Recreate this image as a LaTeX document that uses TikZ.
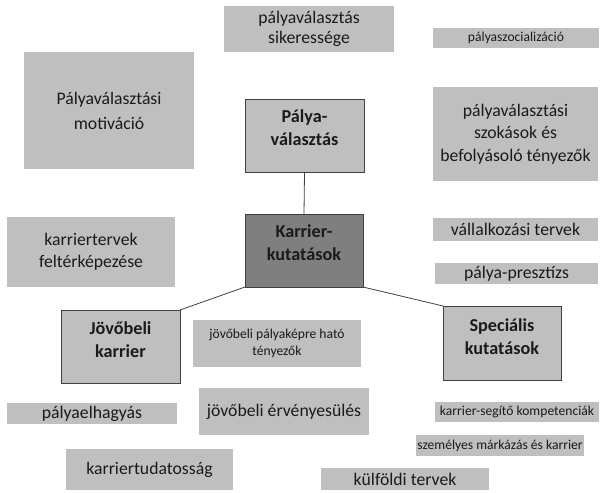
\documentclass[tikz,border=0pt]{standalone}
\usepackage{fontspec}
\setmainfont{Carlito}
\definecolor{boxgray}{HTML}{BFBFBF}
\definecolor{darkgray2}{HTML}{7F7F7F}
\definecolor{edgegray}{HTML}{404040}
\definecolor{txt}{HTML}{1A1A1A}
\newcommand\RB[2]{\raisebox{#1}[\height][\depth]{\begin{tabular}{@{}c@{}}#2\end{tabular}}}
\tikzset{
  gbox/.style={fill=boxgray, draw=none, inner sep=0pt, outer sep=0pt, align=center, text=txt},
  obox/.style={gbox, draw=edgegray, line width=0.9bp},
  reg/.style={font=\fontsize{17.7bp}{22.5bp}\selectfont},
  sml/.style={font=\fontsize{13.6bp}{17bp}\selectfont},
  bld/.style={font=\fontsize{18.2bp}{23bp}\selectfont\bfseries},
  link/.style={draw=edgegray, line width=0.8bp}
}
\begin{document}
\begin{tikzpicture}[x=1bp, y=-1bp]
\fill[white] (0,0) rectangle (600,493);
\useasboundingbox (0,0) rectangle (600,493);

\node[gbox, reg, minimum width=170bp, minimum height=46bp, font=\fontsize{17.7bp}{20.5bp}\selectfont] (siker) at (309,29) {pályaválasztás\\sikeressége};
\node[gbox, sml, minimum width=166bp, minimum height=20bp] (szoc) at (516,38) {pályaszocializáció};
\node[gbox, reg, minimum width=170bp, minimum height=117bp, font=\fontsize{17.7bp}{25bp}\selectfont] (motiv) at (109,110.5) {Pályaválasztási\\motiváció};
\node[obox, bld, minimum width=119bp, minimum height=73bp] (palya) at (304.5,135.5) {\RB{6bp}{Pálya-\\választás}};
\node[gbox, reg, minimum width=165bp, minimum height=94bp] (szok) at (515.5,134) {pályaválasztási\\szokások és\\befolyásoló tényezők};
\node[obox, bld, fill=darkgray2, minimum width=118bp, minimum height=73bp] (karrier) at (304,250.5) {\RB{6bp}{Karrier-\\kutatások}};
\node[gbox, reg, minimum width=168bp, minimum height=70bp] (terv) at (91,252) {karriertervek\\feltérképezése};
\node[gbox, reg, minimum width=165bp, minimum height=23bp] (vall) at (515.5,229.5) {vállalkozási tervek};
\node[gbox, reg, minimum width=163bp, minimum height=21bp] (presz) at (516.5,273.5) {pálya-presztízs};
\node[obox, bld, minimum width=119bp, minimum height=73bp] (jk) at (120.5,346.5) {\RB{5bp}{Jövőbeli\\karrier}};
\node[obox, bld, minimum width=118bp, minimum height=74bp] (spec) at (502,343) {\RB{5bp}{Speciális\\kutatások}};
\node[gbox, sml, minimum width=168bp, minimum height=47bp] (pkep) at (277,343.5) {jövőbeli pályaképre ható\\tényezők};
\node[gbox, reg, minimum width=170bp, minimum height=21bp] (elh) at (92,413.5) {pályaelhagyás};
\node[gbox, reg, minimum width=170bp, minimum height=47bp] (erv) at (284,411.5) {jövőbeli érvényesülés};
\node[gbox, sml, minimum width=164bp, minimum height=20bp] (komp) at (517,412) {karrier-segítő kompetenciák};
\node[gbox, sml, minimum width=168bp, minimum height=21bp] (mark) at (500,445.5) {személyes márkázás és karrier};
\node[gbox, reg, minimum width=167bp, minimum height=41bp] (tud) at (149.5,469.5) {karriertudatosság};
\node[gbox, reg, minimum width=168bp, minimum height=22bp] (kulf) at (405,479) {külföldi tervek};

\draw[link] (palya.south) -- (karrier.north);
\draw[link] (karrier.south west) -- (jk.north east);
\draw[link] (karrier.south east) -- (spec.north west);
\end{tikzpicture}
\end{document}
